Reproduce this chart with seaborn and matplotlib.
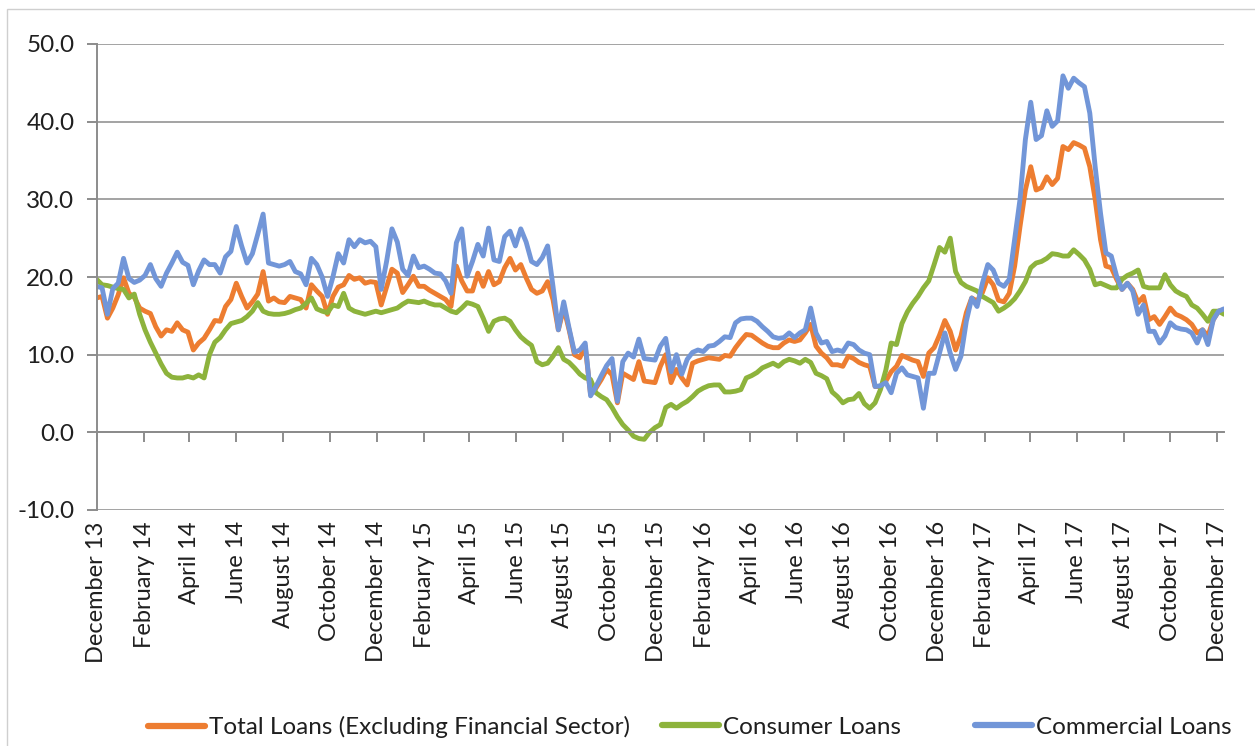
import numpy as np
import pandas as pd
import matplotlib
matplotlib.use("Agg")
import matplotlib.pyplot as plt
from matplotlib.patches import Rectangle
from matplotlib import font_manager
import seaborn as sns

# ---------------- data (weekly, % growth) ----------------
start_date = "2013-12-01"
tick_dates = pd.date_range("2013-12-01", "2017-12-01", freq="2MS")
tick_labels = [d.strftime("%B %y") for d in tick_dates]

series_names = ["Total Loans (Excluding Financial Sector)", "Consumer Loans", "Commercial Loans"]
series_colors = ["#ED7D31", "#8DB33C", "#7296D8"]

total_loans = [
    17.3, 17.5, 14.7, 16.0, 17.7, 19.9, 17.9, 17.4, 16.0, 15.6,
    15.3, 13.6, 12.4, 13.2, 13.0, 14.1, 13.2, 12.9, 10.6, 11.5,
    12.1, 13.2, 14.4, 14.3, 16.2, 17.1, 19.2, 17.5, 16.0, 16.8,
    17.8, 20.7, 16.9, 17.3, 16.8, 16.7, 17.5, 17.3, 17.1, 16.0,
    19.0, 18.2, 17.5, 15.2, 17.5, 18.7, 19.0, 20.2, 19.7, 19.9,
    19.2, 19.4, 19.3, 16.4, 18.7, 21.0, 20.5, 18.0, 19.0, 20.1,
    18.8, 18.8, 18.3, 17.9, 17.5, 17.1, 16.2, 21.4, 19.5, 18.2,
    18.2, 20.5, 18.8, 20.7, 19.0, 19.4, 21.2, 22.4, 20.9, 21.6,
    19.9, 18.4, 17.9, 18.2, 19.4, 17.1, 13.2, 16.0, 13.2, 10.0,
    9.6, 11.1, 4.9, 5.7, 6.8, 8.1, 7.4, 3.8, 7.6, 7.2,
    6.8, 9.1, 6.6, 6.5, 6.4, 8.5, 10.0, 6.4, 8.1, 7.0,
    6.1, 8.9, 9.2, 9.4, 9.6, 9.5, 9.4, 9.9, 9.8, 10.9,
    11.8, 12.6, 12.5, 12.0, 11.5, 11.1, 10.9, 10.9, 11.5, 11.9,
    11.7, 11.9, 12.8, 13.9, 11.1, 10.2, 9.6, 8.7, 8.7, 8.5,
    9.8, 9.5, 9.0, 8.7, 8.5, 5.9, 5.9, 6.6, 7.8, 8.5,
    9.9, 9.6, 9.3, 9.1, 7.2, 10.2, 10.9, 12.5, 14.4, 13.0,
    10.6, 12.4, 15.4, 17.3, 16.9, 18.0, 19.9, 19.0, 17.0, 16.8,
    17.9, 21.4, 26.5, 31.2, 34.2, 31.2, 31.5, 32.9, 31.9, 32.7,
    36.8, 36.4, 37.3, 37.0, 36.6, 34.2, 30.0, 24.8, 21.4, 21.2,
    19.7, 18.4, 19.2, 18.4, 16.7, 17.5, 14.5, 14.9, 13.9, 14.9,
    16.0, 15.2, 14.9, 14.5, 13.9, 12.8, 13.2, 12.4, 14.5, 15.6, 15.8,
]

consumer_loans = [
    19.7, 19.0, 18.9, 18.7, 18.5, 18.4, 17.3, 17.8, 15.2, 13.2,
    11.6, 10.2, 8.8, 7.6, 7.1, 7.0, 7.0, 7.2, 7.0, 7.4,
    7.0, 10.0, 11.6, 12.2, 13.2, 14.0, 14.2, 14.4, 14.9, 15.6,
    16.7, 15.6, 15.3, 15.2, 15.2, 15.3, 15.5, 15.8, 16.0, 16.6,
    17.3, 15.9, 15.6, 15.4, 16.4, 16.2, 17.9, 16.0, 15.6, 15.4,
    15.2, 15.4, 15.6, 15.4, 15.6, 15.8, 16.0, 16.5, 16.9, 16.8,
    16.7, 16.9, 16.6, 16.4, 16.4, 16.0, 15.6, 15.4, 16.0, 16.7,
    16.5, 16.2, 14.7, 13.0, 14.3, 14.6, 14.7, 14.3, 13.2, 12.3,
    11.7, 11.2, 9.1, 8.7, 8.9, 9.8, 10.9, 9.4, 9.0, 8.3,
    7.5, 7.0, 6.8, 5.1, 4.6, 4.2, 3.2, 2.0, 1.0, 0.3,
    -0.5, -0.8, -0.9, 0.0, 0.6, 1.0, 3.2, 3.6, 3.1, 3.6,
    4.0, 4.6, 5.3, 5.7, 6.0, 6.1, 6.1, 5.2, 5.2, 5.3,
    5.5, 7.0, 7.3, 7.7, 8.3, 8.6, 8.9, 8.5, 9.1, 9.4,
    9.2, 8.9, 9.4, 9.0, 7.6, 7.3, 6.9, 5.2, 4.6, 3.8,
    4.2, 4.3, 5.0, 3.7, 3.1, 3.8, 5.5, 8.0, 11.5, 11.3,
    14.0, 15.5, 16.6, 17.5, 18.6, 19.5, 21.6, 23.8, 23.2, 25.0,
    20.7, 19.3, 18.8, 18.5, 18.2, 17.5, 17.1, 16.7, 15.6, 16.0,
    16.5, 17.2, 18.2, 19.4, 21.2, 21.8, 22.0, 22.4, 23.0, 22.9,
    22.7, 22.7, 23.5, 22.9, 22.2, 21.0, 19.0, 19.2, 18.9, 18.6,
    18.6, 19.7, 20.2, 20.5, 20.9, 18.8, 18.6, 18.6, 18.6, 20.3,
    19.0, 18.2, 17.8, 17.5, 16.4, 16.0, 15.2, 14.3, 15.6, 15.6, 15.2,
]

commercial_loans = [
    18.8, 18.6, 15.2, 18.5, 19.2, 22.4, 19.8, 19.3, 19.6, 20.2,
    21.6, 19.8, 18.8, 20.5, 21.8, 23.2, 21.9, 21.5, 19.0, 20.8,
    22.2, 21.6, 21.6, 20.5, 22.6, 23.3, 26.5, 24.0, 21.8, 23.0,
    25.5, 28.1, 21.8, 21.6, 21.4, 21.6, 22.0, 20.7, 20.4, 19.0,
    22.4, 21.6, 20.0, 17.5, 20.0, 23.0, 21.8, 24.8, 23.9, 24.8,
    24.4, 24.6, 23.9, 18.4, 22.0, 26.2, 24.5, 21.0, 20.2, 22.7,
    21.2, 21.4, 21.0, 20.5, 20.4, 19.5, 17.9, 24.4, 26.2, 20.1,
    22.0, 24.2, 22.7, 26.3, 22.2, 22.0, 25.2, 25.9, 24.0, 26.2,
    24.5, 22.0, 21.6, 22.5, 24.0, 18.8, 13.2, 16.8, 13.4, 10.3,
    10.6, 11.5, 4.7, 5.9, 7.3, 8.6, 9.5, 4.0, 9.1, 10.2,
    9.7, 12.0, 9.5, 9.4, 9.3, 11.1, 12.1, 7.8, 10.0, 7.5,
    9.4, 10.3, 10.6, 10.4, 11.1, 11.2, 11.7, 12.3, 12.2, 14.1,
    14.6, 14.7, 14.7, 14.3, 13.6, 13.0, 12.3, 12.1, 12.2, 12.8,
    12.2, 12.8, 13.2, 16.0, 12.8, 11.5, 11.7, 10.4, 10.6, 10.4,
    11.5, 11.3, 10.6, 10.2, 10.0, 5.9, 6.0, 6.4, 5.1, 7.6,
    8.3, 7.4, 7.2, 7.0, 3.1, 7.6, 7.6, 10.2, 12.8, 10.2,
    8.1, 9.8, 14.3, 17.3, 16.2, 19.2, 21.6, 20.9, 19.2, 18.8,
    19.7, 24.8, 30.0, 37.7, 42.5, 37.7, 38.2, 41.4, 39.4, 40.1,
    45.9, 44.3, 45.6, 45.0, 44.5, 41.1, 34.2, 28.2, 23.1, 22.7,
    20.1, 18.4, 19.2, 18.2, 15.2, 16.4, 13.0, 13.0, 11.5, 12.4,
    14.1, 13.5, 13.3, 13.2, 12.8, 11.5, 13.2, 11.3, 14.5, 15.6, 15.9,
]

# ---------------- build long-form table ----------------
n = len(total_loans)
dates = pd.date_range(start_date, periods=n, freq="7D")
frames = []
for name, vals in zip(series_names, [total_loans, consumer_loans, commercial_loans]):
    frames.append(pd.DataFrame({"date": dates, "value": vals, "series": name}))
df = pd.concat(frames, ignore_index=True)

# ---------------- style ----------------
sns.set_theme(style="white")
available = {f.name for f in font_manager.fontManager.ttflist}
main_font = "Lato" if "Lato" in available else "DejaVu Sans"
if "Liberation Sans Narrow" in available:
    legend_font, legend_size = "Liberation Sans Narrow", 19
else:
    legend_font, legend_size = main_font, 17.5
plt.rcParams["font.family"] = [main_font, "DejaVu Sans"]
plt.rcParams["axes.unicode_minus"] = False
text_color = "#1f1f1f"
axis_gray = "#8c8c8c"
grid_gray = "#a3a3a3"

fig = plt.figure(figsize=(12.55, 7.46), dpi=100)
fig.patch.set_facecolor("white")

# chart-area border
fig.add_artist(Rectangle((7 / 1255, -0.05), 1.2, 1 - 9 / 746 + 0.05,
                         transform=fig.transFigure, fill=False,
                         edgecolor="#cfcfcf", linewidth=1.0))

ax = fig.add_axes([96.7 / 1255, 1 - 510 / 746, (1224 - 96.7) / 1255, (510 - 44) / 746])

palette = dict(zip(series_names, series_colors))
sns.lineplot(data=df, x="date", y="value", hue="series", hue_order=series_names,
             palette=palette, linewidth=3.5, ax=ax, legend=True)
handles, labels = ax.get_legend_handles_labels()
ax.get_legend().remove()

# axes
ax.set_ylim(-10, 50)
ax.set_yticks(np.arange(-10, 51, 10))
ax.set_yticklabels([f"{v:.1f}" for v in np.arange(-10, 51, 10)])
ax.set_xlim(dates[0], dates[-1])
ax.set_xticks(tick_dates)
ax.set_xticklabels(tick_labels)
ax.set_xlabel("")
ax.set_ylabel("")

ax.yaxis.grid(True, color=grid_gray, linewidth=1.4)
ax.xaxis.grid(False)
for s in ["top", "right"]:
    ax.spines[s].set_visible(False)
ax.spines["left"].set_color(axis_gray)
ax.spines["left"].set_linewidth(1.4)
ax.spines["bottom"].set_position(("data", 0))
ax.spines["bottom"].set_color(axis_gray)
ax.spines["bottom"].set_linewidth(1.4)
ax.set_axisbelow(True)

ax.tick_params(axis="y", direction="out", length=7, width=1.4, color=axis_gray,
               pad=9, labelsize=17.5, labelcolor=text_color, left=True)
ax.tick_params(axis="x", direction="out", length=7, width=1.4, color=axis_gray,
               pad=57, labelsize=17, labelcolor=text_color, bottom=True,
               labelrotation=90)
for t in ax.get_xticklabels():
    t.set_rotation(90)
    t.set_ha("center")
    t.set_va("top")

# legend: three entries placed along the bottom
leg_x = [148, 662, 975]
for h, lab, x in zip(handles, labels, leg_x):
    leg = fig.legend([h], [lab], loc="center left",
                     bbox_to_anchor=(x / 1255, 1 - 727 / 746),
                     frameon=False, handlelength=57 / (legend_size * 100 / 72),
                     handletextpad=0.15, borderpad=0, borderaxespad=0,
                     prop={"family": [legend_font, "DejaVu Sans"], "size": legend_size})
    for t in leg.get_texts():
        t.set_color(text_color)
    for l in leg.get_lines():
        l.set_linewidth(4.5)

fig.savefig("out.png", dpi=100, facecolor="white")
